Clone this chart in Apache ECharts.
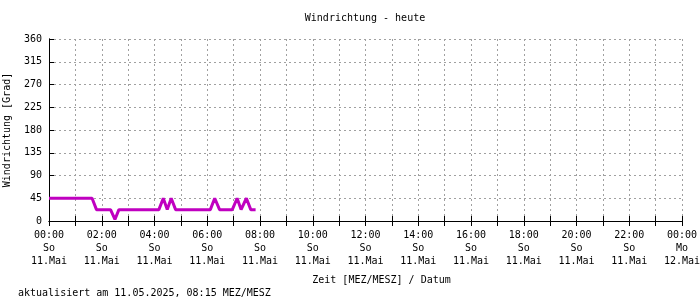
<!DOCTYPE html>
<html><head><meta charset="utf-8">
<script src="https://cdn.jsdelivr.net/npm/echarts@6/dist/echarts.min.js"></script>
<style>html,body{margin:0;padding:0;background:#fff}#c{width:700px;height:300px}</style>
</head><body><div id="c"></div>
<script>
// time in minutes since 00:00 on 11.05.2025
var timesMin = [0, 98, 108, 140, 150, 159, 250, 260, 269, 278, 288, 367, 377, 388, 417, 428, 437, 449, 459, 470];
var directionDeg = [45, 45, 22.5, 22.5, 3, 22.5, 22.5, 45, 22.5, 45, 22.5, 22.5, 45, 22.5, 22.5, 45, 22.5, 45, 22.5, 22.5];
var yTicks = [0, 45, 90, 135, 180, 225, 270, 315, 360];
var xTimeLabels = ['00:00','02:00','04:00','06:00','08:00','10:00','12:00','14:00','16:00','18:00','20:00','22:00','00:00'];
var xDayLabels = ['So','So','So','So','So','So','So','So','So','So','So','So','Mo'];
var xDateLabels = ['11.Mai','11.Mai','11.Mai','11.Mai','11.Mai','11.Mai','11.Mai','11.Mai','11.Mai','11.Mai','11.Mai','11.Mai','12.Mai'];

var FONT = '"DejaVu Sans Mono", "Liberation Mono", monospace';
var data = timesMin.map(function(t, i){ return [t, directionDeg[i]]; });
var chart = echarts.init(document.getElementById('c'), null, {renderer:'canvas'});
chart.setOption({
  animation: false,
  backgroundColor: '#fff',
  textStyle: {fontFamily: FONT},
  title: [
    {text: 'Windrichtung - heute', left: 365, top: 13, padding: 0, textAlign: 'center',
     textStyle: {fontFamily: FONT, fontSize: 10, fontWeight: 'normal', color: '#000'}},
    {text: 'aktualisiert am 11.05.2025, 08:15 MEZ/MESZ', left: 18, top: 288, padding: 0,
     textStyle: {fontFamily: FONT, fontSize: 10, fontWeight: 'normal', color: '#000'}}
  ],
  grid: {left: 49, right: 18, top: 39, bottom: 79, containLabel: false, outerBoundsMode: 'none'},
  xAxis: [{
    type: 'value', min: 0, max: 1440, interval: 60, position: 'bottom',
    name: 'Zeit [MEZ/MESZ] / Datum', nameLocation: 'middle', nameGap: 54,
    nameTextStyle: {fontFamily: FONT, fontSize: 10, color: '#000', padding: [0,0,0,32]},
    axisLine: {lineStyle: {color: '#000', width: 1}},
    axisTick: {inside: true, length: 5, lineStyle: {color: '#000'}},
    splitLine: {show: true, lineStyle: {color: '#a0a0a0', type: [2,3], width: 1}},
    axisLabel: {
      fontFamily: FONT, fontSize: 10, color: '#000', lineHeight: 13, margin: 8,
      showMinLabel: true, showMaxLabel: true, hideOverlap: false,
      formatter: function(v){
        if (v % 120 !== 0) return '';
        var i = v / 120;
        return xTimeLabels[i] + '\n' + xDayLabels[i] + '\n' + xDateLabels[i];
      }
    }
  }, {
    type: 'value', min: 0, max: 1440, interval: 60, position: 'top',
    axisLine: {lineStyle: {color: '#000', width: 1}},
    axisTick: {inside: true, length: 5, lineStyle: {color: '#000'}},
    axisLabel: {show: false}, splitLine: {show: false}
  }],
  yAxis: [{
    type: 'value', min: 0, max: 360, interval: 45,
    name: 'Windrichtung [Grad]', nameLocation: 'middle', nameGap: 37, nameRotate: 90,
    nameTextStyle: {fontFamily: FONT, fontSize: 10, color: '#000'},
    axisLine: {show: true, lineStyle: {color: '#000', width: 1}},
    axisTick: {show: true, inside: true, length: 5, lineStyle: {color: '#000'}},
    splitLine: {show: true, lineStyle: {color: '#a0a0a0', type: [2,3], width: 1}},
    axisLabel: {fontFamily: FONT, fontSize: 10, color: '#000', margin: 7,
      formatter: function(v){ return yTicks.indexOf(v) >= 0 ? String(v) : ''; }}
  }, {
    type: 'value', min: 0, max: 360, interval: 45, position: 'right',
    axisLine: {show: true, lineStyle: {color: '#000', width: 1}},
    axisTick: {show: false}, axisLabel: {show: false}, splitLine: {show: false}
  }],
  series: [{
    type: 'line', data: data, showSymbol: false, symbol: 'none',
    lineStyle: {color: '#c000c0', width: 3}, itemStyle: {color: '#c000c0'}
  }]
});
</script></body></html>
